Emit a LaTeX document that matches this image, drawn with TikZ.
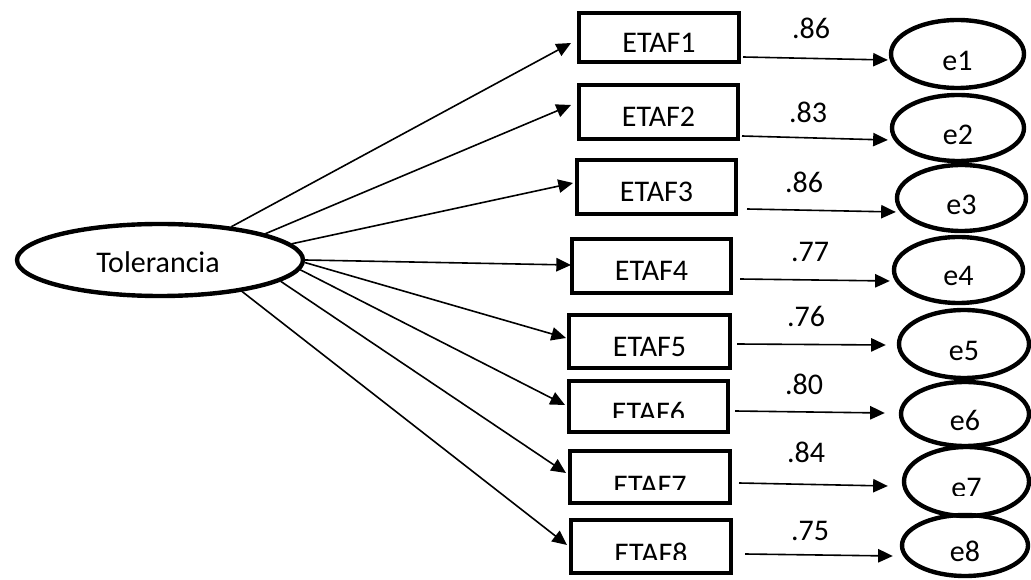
\documentclass[tikz,border=0pt]{standalone}
\usepackage{fontspec}
\setmainfont{Carlito}
\usetikzlibrary{arrows.meta,shapes.geometric,calc}

\begin{document}
\begin{tikzpicture}[x=0.75pt,y=-0.75pt,
  every node/.style={font=\fontsize{22.5}{27}\selectfont},
  item/.style={draw,line width=3pt,rectangle,inner sep=0pt},
  latent/.style={draw,line width=3.3pt,ellipse,inner sep=0pt},
  txt/.style={anchor=base,inner sep=0pt},
  coef/.style={anchor=base,inner sep=0pt},
  arr/.style={line width=1.2pt,-{Triangle[length=11pt,width=10pt]}},
]
\useasboundingbox (0,0) rectangle (1031,580);

% latent factor
\node[latent,minimum width=214.5pt,minimum height=54pt] (tol) at (160,260) {};
\node[txt] (ttol) at (158,273) {Tolerancia};

% observed items
\node[item,minimum width=120pt,minimum height=36.75pt] (b1) at (659,37.5) {};
\node[item,minimum width=119.25pt,minimum height=40.5pt] (b2) at (658.5,112) {};
\node[item,minimum width=119.25pt,minimum height=40.5pt] (b3) at (656.5,187) {};
\node[item,minimum width=119.25pt,minimum height=40.5pt] (b4) at (651.5,266) {};
\node[item,minimum width=120.75pt,minimum height=39.75pt] (b5) at (649.5,341.5) {};
\node[item,minimum width=119.25pt,minimum height=38.25pt] (b6) at (648.5,406.5) {};
\node[item,minimum width=120pt,minimum height=39pt] (b7) at (650,477) {};
\node[item,minimum width=120pt,minimum height=39.75pt] (b8) at (651,546.5) {};

\node[txt] (t1) at ($(b1.center)+(0,15)$) {ETAF1};
\node[txt] (t2) at ($(b2.center)+(0,15)$) {ETAF2};
\node[txt] (t3) at ($(b3.center)+(0,15)$) {ETAF3};
\node[txt] (t4) at ($(b4.center)+(0,15)$) {ETAF4};
\node[txt] (t5) at ($(b5.center)+(0,15.5)$) {ETAF5};
\begin{scope}
  \clip (560,380) rectangle (740,418);
  \node[txt] (t6) at ($(b6.center)+(0,16)$) {ETAF6};
\end{scope}
\begin{scope}
  \clip (560,450) rectangle (740,489);
  \node[txt] (t7) at ($(b7.center)+(0,18)$) {ETAF7};
\end{scope}
\begin{scope}
  \clip (560,520) rectangle (740,559);
  \node[txt] (t8) at ($(b8.center)+(0,16.5)$) {ETAF8};
\end{scope}

% error terms
\node[latent,minimum width=99.75pt,minimum height=51pt] (e1) at (957.5,54) {};
\node[latent,minimum width=99pt,minimum height=49.5pt] (e2) at (958,128) {};
\node[latent,minimum width=96.75pt,minimum height=49.5pt] (e3) at (961.5,198) {};
\node[latent,minimum width=96.75pt,minimum height=49.5pt] (e4) at (958.5,270) {};
\node[latent,minimum width=97.5pt,minimum height=51pt] (e5) at (964,344) {};
\node[latent,minimum width=96pt,minimum height=48pt] (e6) at (965,414) {};
\node[latent,minimum width=93.75pt,minimum height=51.75pt] (e7) at (966.5,481.5) {};
\node[latent,minimum width=94.5pt,minimum height=45.75pt] (e8) at (965,545.5) {};

\node[txt] (u1) at ($(e1.center)+(0,17)$) {e1};
\node[txt] (u2) at ($(e2.center)+(0,17)$) {e2};
\node[txt] (u3) at ($(e3.center)+(0,16.5)$) {e3};
\node[txt] (u4) at ($(e4.center)+(0,15.5)$) {e4};
\node[txt] (u5) at ($(e5.center)+(0,16.5)$) {e5};
\node[txt] (u6) at ($(e6.center)+(0,16.5)$) {e6};
\begin{scope}
  \clip (900,450) rectangle (1031,495);
  \node[txt] (u7) at ($(e7.center)+(0,15.5)$) {e7};
\end{scope}
\node[txt] (u8) at ($(e8.center)+(0,15.5)$) {e8};

% loadings from the factor to the items
\draw[arr] (tol.25)  -- ($(b1.west)+(-6,5.5)$);
\draw[arr] (tol.14)  -- ($(b2.west)+(-6,-7)$);
\draw[arr] (tol.7.8) -- ($(b3.west)+(-2,-4)$);
\draw[arr] (tol.0.4) -- ($(b4.west)+(1,-1)$);
\draw[arr] (tol.-1.6) -- ($(b5.west)+(-1,-3.5)$);
\draw[arr] (tol.-4.1) -- ($(b6.west)+(-2,-1.5)$);
\draw[arr] (tol.-10.9) -- ($(b7.west)+(-2,-4)$);
\draw[arr] (tol.-21.9) -- ($(b8.west)+(-2,-1.5)$);

% error arrows
\draw[arr] ($(b1.east)+(2,19.5)$) -- ($(e1.west)+(-1,6)$);
\draw[arr] ($(b2.east)+(2,24)$)   -- ($(e2.west)+(-2,12)$);
\draw[arr] ($(b3.east)+(9,22)$)   -- ($(e3.west)+(1,14)$);
\draw[arr] ($(b4.east)+(7,13)$)   -- ($(e4.west)+(-2,11)$);
\draw[arr] ($(b5.east)+(5,2.5)$)  -- ($(e5.west)+(-11,1)$);
\draw[arr] ($(b6.east)+(5,4.5)$)  -- ($(e6.west)+(-14,-1)$);
\draw[arr] ($(b7.east)+(7,6)$)    -- ($(e7.west)+(-14,4.5)$);
\draw[arr] ($(b8.east)+(12,7.5)$) -- ($(e8.west)+(-7,10.5)$);

% coefficients
\node[coef] (l1) at (811,39)  {.86};
\node[coef] (l2) at (808,123) {.83};
\node[coef] (l3) at (804,193) {.86};
\node[coef] (l4) at (810,262) {.77};
\node[coef] (l5) at (806,327) {.76};
\node[coef] (l6) at (804,395) {.80};
\node[coef] (l7) at (806,463) {.84};
\node[coef] (l8) at (810,540) {.75};
\end{tikzpicture}
\end{document}
